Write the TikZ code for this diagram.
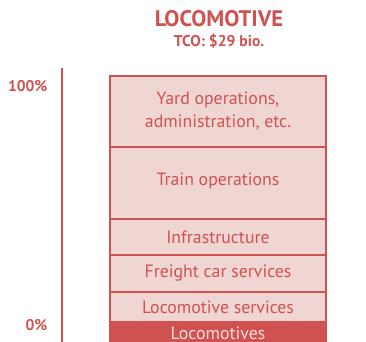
\documentclass[tikz,border=0pt]{standalone}
\usepackage{fontspec}
\setmainfont{PT Sans}
\definecolor{rred}{RGB}{208,82,80}
\definecolor{rpink}{RGB}{240,214,211}
\definecolor{rlight}{RGB}{245,222,220}
\begin{document}
\begin{tikzpicture}[x=1pt,y=-1pt,
  seg/.style={draw=rred,fill=rpink,line width=1.2pt},
  segtext/.style={text=rred,font=\fontsize{17.8}{23}\selectfont,align=center},
  pct/.style={text=rred,font=\bfseries\fontsize{15.5}{17}\selectfont,anchor=east}]
\useasboundingbox (0,0) rectangle (366,341);
\clip (0,0) rectangle (366,341);
\node[text=rred,font=\bfseries\fontsize{22.5}{25}\selectfont] (title) at (219,19) {LOCOMOTIVE};
\node[text=rred,font=\bfseries\fontsize{15.6}{18}\selectfont] (tco) at (219,41) {TCO: \$29 bio.};
\draw[rred,line width=2pt] (62,68) coordinate (atop) -- (62,345) coordinate (abot);
\node[pct] (p100) at (51,86) {100\%};
\node[pct] (p0) at (51,325) {0\%};
\draw[seg] (110,76) rectangle (326,147);
\node[segtext] (yard) at (218,111) {Yard operations,\\administration, etc.};
\draw[seg] (110,147) rectangle (326,219);
\node[segtext] (train) at (218,181) {Train operations};
\draw[seg] (110,219) rectangle (326,255);
\node[segtext] (infra) at (218,237) {Infrastructure};
\draw[seg] (110,255) rectangle (326,292);
\node[segtext] (freight) at (218,273) {Freight car services};
\draw[seg] (110,292) rectangle (326,322);
\node[segtext] (locserv) at (218,307) {Locomotive services};
\draw[draw=rred,fill=rred,line width=1.2pt] (110,322) rectangle (326,350);
\node[segtext,text=rlight] (loco) at (218,333) {Locomotives};
\end{tikzpicture}
\end{document}
